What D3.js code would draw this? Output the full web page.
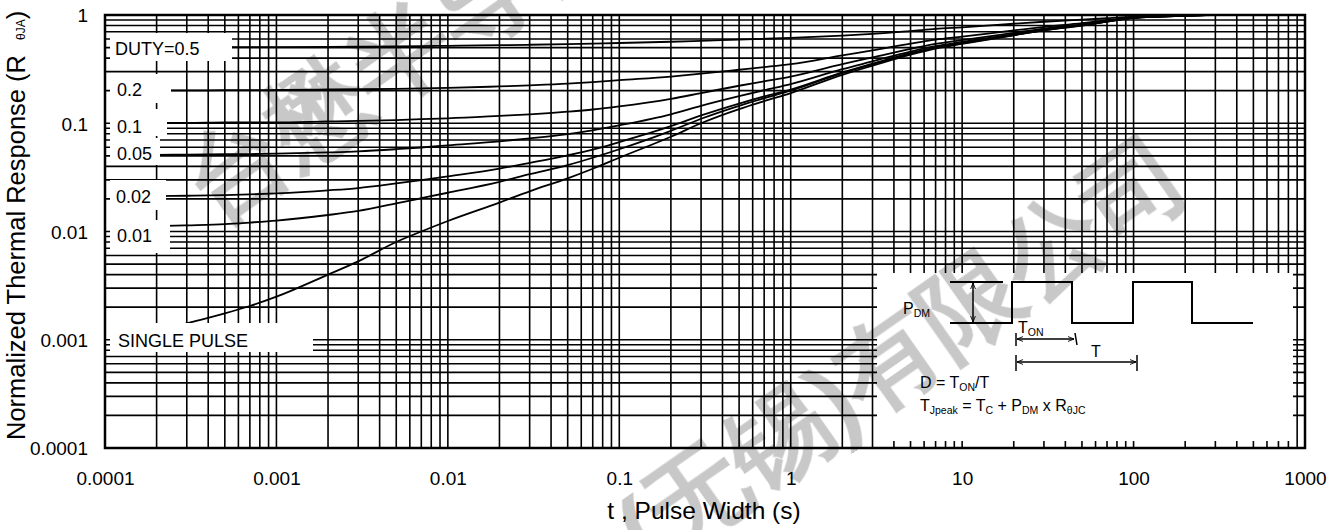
<!DOCTYPE html>
<html>
<head>
<meta charset="utf-8">
<script src="https://cdn.jsdelivr.net/npm/d3@7"></script>
<style>
  body { margin: 0; background: #fff; }
  svg { display: block; }
  text { font-family: "Liberation Sans", Arial, Helvetica, sans-serif; fill: #000; }
</style>
</head>
<body>
<svg id="chart" width="1344" height="530"></svg>
<script>
// Pulse width (s) sampled along every curve
const pulseWidth = [0.0002, 0.0003, 0.0005, 0.0007, 0.001, 0.002, 0.003, 0.005, 0.007,
  0.01, 0.02, 0.03, 0.05, 0.07, 0.1, 0.2, 0.3, 0.5, 0.7, 1, 2, 3, 5, 7,
  10, 20, 30, 50, 70, 100, 200, 300];

// Normalized thermal response for each duty cycle
const duty50 = [0.502, 0.503, 0.504, 0.505, 0.506, 0.508, 0.510, 0.513, 0.516,
  0.519, 0.526, 0.531, 0.538, 0.544, 0.551, 0.566, 0.577, 0.593, 0.603, 0.614, 0.645, 0.670, 0.710, 0.745,
  0.770, 0.830, 0.866, 0.905, 0.935, 0.965, 0.990, 1.0];
const duty20 = [0.201, 0.201, 0.202, 0.202, 0.203, 0.205, 0.206, 0.208, 0.210,
  0.212, 0.219, 0.224, 0.232, 0.240, 0.250, 0.270, 0.287, 0.312, 0.330, 0.352, 0.424, 0.472, 0.544, 0.592,
  0.632, 0.720, 0.776, 0.840, 0.896, 0.952, 0.988, 1.0];
const duty10 = [0.101, 0.101, 0.102, 0.102, 0.102, 0.104, 0.105, 0.107, 0.109,
  0.111, 0.117, 0.121, 0.128, 0.134, 0.143, 0.168, 0.190, 0.222, 0.244, 0.270, 0.352, 0.406, 0.487, 0.540,
  0.585, 0.685, 0.750, 0.820, 0.883, 0.946, 0.987, 1.0];
const duty05 = [0.0511, 0.0513, 0.0517, 0.0519, 0.0524, 0.0538, 0.0550, 0.0576, 0.0597,
  0.0625, 0.0680, 0.0725, 0.0795, 0.0860, 0.0956, 0.121, 0.145, 0.178, 0.202, 0.230, 0.316, 0.373, 0.460, 0.515,
  0.563, 0.667, 0.735, 0.810, 0.875, 0.943, 0.986, 1.0];
const duty02 = [0.0212, 0.0214, 0.0217, 0.0220, 0.0225, 0.0240, 0.0252, 0.0278, 0.0298,
  0.0323, 0.0381, 0.0430, 0.0505, 0.0570, 0.0670, 0.0940, 0.118, 0.152, 0.177, 0.205, 0.295, 0.355, 0.445, 0.500,
  0.552, 0.655, 0.725, 0.805, 0.870, 0.940, 0.985, 1.0];
const duty01 = [0.0112, 0.0114, 0.0117, 0.0121, 0.0126, 0.0142, 0.0155, 0.0182, 0.0203,
  0.0228, 0.0288, 0.0338, 0.0410, 0.0480, 0.0575, 0.0850, 0.110, 0.145, 0.170, 0.200, 0.290, 0.350, 0.440, 0.500,
  0.548, 0.652, 0.723, 0.803, 0.870, 0.940, 0.985, 1.0];
const singlePulse = [0.0012, 0.00142, 0.00175, 0.00205, 0.0025, 0.0040, 0.0053, 0.0080, 0.0100,
  0.0125, 0.0185, 0.0235, 0.0310, 0.0380, 0.0480, 0.0750, 0.100, 0.135, 0.160, 0.190, 0.280, 0.340, 0.430, 0.490,
  0.540, 0.650, 0.720, 0.800, 0.870, 0.940, 0.985, 1.0];

const seriesNames = ["DUTY=0.5", "0.2", "0.1", "0.05", "0.02", "0.01", "SINGLE PULSE"];
const seriesValues = [duty50, duty20, duty10, duty05, duty02, duty01, singlePulse];

// Axis ticks
const xTicks = [0.0001, 0.001, 0.01, 0.1, 1, 10, 100, 1000];
const xTickLabels = ["0.0001", "0.001", "0.01", "0.1", "1", "10", "100", "1000"];
const yTicks = [0.0001, 0.001, 0.01, 0.1, 1];
const yTickLabels = ["0.0001", "0.001", "0.01", "0.1", "1"];

// ---------------------------------------------------------------
const svg = d3.select("#chart");
const plot = { left: 105, right: 1305, top: 15, bottom: 448 };

const x = d3.scaleLog().domain([1e-4, 1e3]).range([plot.left, plot.right]);
const y = d3.scaleLog().domain([1e-4, 1]).range([plot.bottom, plot.top]);

svg.append("rect").attr("width", 1344).attr("height", 530).attr("fill", "#fff");

// log grid: 1..9 in every decade
const gridX = [];
for (let e = -4; e <= 2; e++) for (let k = 1; k <= 9; k++) gridX.push(k * Math.pow(10, e));
gridX.push(1000);
const gridY = [];
for (let e = -4; e <= -1; e++) for (let k = 1; k <= 9; k++) gridY.push(k * Math.pow(10, e));
gridY.push(1);

const grid = svg.append("g").attr("stroke", "#000").attr("stroke-width", 1.6);
grid.selectAll("line.v").data(gridX).join("line").attr("class", "v")
  .attr("x1", d => x(d)).attr("x2", d => x(d))
  .attr("y1", plot.top).attr("y2", plot.bottom);
grid.selectAll("line.h").data(gridY).join("line").attr("class", "h")
  .attr("x1", plot.left).attr("x2", plot.right)
  .attr("y1", d => y(d)).attr("y2", d => y(d));

// response curves
const line = d3.line()
  .x(d => x(d[0]))
  .y(d => y(d[1]))
  .curve(d3.curveMonotoneX);
svg.append("g").selectAll("path").data(seriesValues).join("path")
  .attr("d", vals => line(pulseWidth.map((t, i) => [t, vals[i]])))
  .attr("fill", "none").attr("stroke", "#000").attr("stroke-width", 1.8);

// white backing boxes behind the curve labels
const labelBoxes = [
  { x0: 110, x1: 232, y0: 33, y1: 61, tx: 115, ty: 55 },
  { x0: 110, x1: 171, y0: 74, y1: 103, tx: 117, ty: 96 },
  { x0: 110, x1: 167, y0: 109, y1: 136, tx: 117, ty: 133 },
  { x0: 110, x1: 160, y0: 138, y1: 165, tx: 117, ty: 159.5 },
  { x0: 110, x1: 166, y0: 180, y1: 210, tx: 116, ty: 203 },
  { x0: 110, x1: 170, y0: 220, y1: 253, tx: 117, ty: 242 },
  { x0: 110, x1: 313, y0: 323, y1: 352, tx: 118, ty: 347 }
];
const lab = svg.append("g");
lab.selectAll("rect").data(labelBoxes).join("rect")
  .attr("x", d => d.x0).attr("y", d => d.y0)
  .attr("width", d => d.x1 - d.x0).attr("height", d => d.y1 - d.y0)
  .attr("fill", "#fff");
lab.selectAll("text").data(labelBoxes).join("text")
  .attr("x", d => d.tx).attr("y", d => d.ty)
  .style("font-size", "18px")
  .text((d, i) => seriesNames[i]);

// inset: pulse train diagram
const ins = svg.append("g");
ins.append("rect").attr("x", 877).attr("y", 273).attr("width", 416).attr("height", 168).attr("fill", "#fff");

const defs = svg.append("defs");
defs.append("marker").attr("id", "arr").attr("viewBox", "0 0 10 10")
  .attr("refX", 10).attr("refY", 5).attr("markerWidth", 6).attr("markerHeight", 6)
  .attr("markerUnits", "userSpaceOnUse")
  .attr("orient", "auto-start-reverse")
  .append("path").attr("d", "M0,1 L10,5 L0,9").attr("fill", "none").attr("stroke", "#000").attr("stroke-width", 1.5);

const stroke = g => g.attr("stroke", "#000").attr("fill", "none");
stroke(ins.append("path")).attr("stroke-width", 2)
  .attr("d", "M950,323 H1012 V282 H1072 V323 H1133 V282 H1192 V323 H1253");
stroke(ins.append("line")).attr("stroke-width", 2).attr("x1", 950).attr("x2", 1003).attr("y1", 282).attr("y2", 282);
stroke(ins.append("line")).attr("stroke-width", 1.5).attr("x1", 973).attr("x2", 973).attr("y1", 283).attr("y2", 322)
  .attr("marker-start", "url(#arr)").attr("marker-end", "url(#arr)");
// T_ON span
stroke(ins.append("line")).attr("stroke-width", 1.5).attr("x1", 1017).attr("x2", 1074).attr("y1", 339).attr("y2", 339)
  .attr("marker-start", "url(#arr)").attr("marker-end", "url(#arr)");
stroke(ins.append("line")).attr("stroke-width", 1.5).attr("x1", 1016).attr("x2", 1016).attr("y1", 333).attr("y2", 346);
stroke(ins.append("line")).attr("stroke-width", 1.5).attr("x1", 1075).attr("x2", 1077).attr("y1", 333).attr("y2", 345);
// T span
stroke(ins.append("line")).attr("stroke-width", 1.5).attr("x1", 1017).attr("x2", 1136).attr("y1", 362).attr("y2", 362)
  .attr("marker-start", "url(#arr)").attr("marker-end", "url(#arr)");
stroke(ins.append("line")).attr("stroke-width", 1.5).attr("x1", 1016).attr("x2", 1016).attr("y1", 355).attr("y2", 371);
stroke(ins.append("line")).attr("stroke-width", 1.5).attr("x1", 1137).attr("x2", 1137).attr("y1", 355).attr("y2", 371);

function richText(g, xPos, yPos, parts) {
  const t = g.append("text").attr("x", xPos).attr("y", yPos).style("font-size", "16px");
  parts.forEach(p => {
    const s = t.append("tspan").text(p.s);
    if (p.sub) s.style("font-size", "10.5px").attr("dy", 3);
    else if (p.back) s.attr("dy", -3);
  });
  return t;
}
richText(ins, 903, 314, [{ s: "P" }, { s: "DM", sub: true }]);
richText(ins, 1018, 333, [{ s: "T" }, { s: "ON", sub: true }]);
ins.append("text").attr("x", 1096).attr("y", 357).attr("text-anchor", "middle").style("font-size", "16px").text("T");
richText(ins, 920, 388, [{ s: "D = T" }, { s: "ON", sub: true }, { s: "/T", back: true }]);
richText(ins, 920, 411, [
  { s: "T" }, { s: "Jpeak", sub: true }, { s: " = T", back: true }, { s: "C", sub: true },
  { s: " + P", back: true }, { s: "DM", sub: true }, { s: " x R", back: true }, { s: "θJC", sub: true }
]);

// plot frame
svg.append("rect")
  .attr("x", plot.left).attr("y", plot.top)
  .attr("width", plot.right - plot.left).attr("height", plot.bottom - plot.top)
  .attr("fill", "none").attr("stroke", "#000").attr("stroke-width", 2.5);

// axes (labels only)
const xAxis = d3.axisBottom(x).tickValues(xTicks).tickFormat((d, i) => xTickLabels[i]).tickSize(0).tickPadding(24);
const gx = svg.append("g").attr("transform", `translate(0,${plot.bottom})`).call(xAxis);
gx.select(".domain").remove();
gx.selectAll("text").style("font-size", "19px").style("font-family", "'Liberation Sans', Arial, sans-serif").attr("fill", "#000");

const yAxis = d3.axisLeft(y).tickValues(yTicks).tickFormat((d, i) => yTickLabels[i]).tickSize(0).tickPadding(17);
const gy = svg.append("g").attr("transform", `translate(${plot.left},0)`).call(yAxis);
gy.select(".domain").remove();
gy.selectAll("text").style("font-size", "19px").style("font-family", "'Liberation Sans', Arial, sans-serif").attr("fill", "#000").attr("dy", "0.36em");

// axis titles
svg.append("text")
  .attr("x", 704).attr("y", 519).attr("text-anchor", "middle")
  .style("font-size", "24.5px")
  .text("t , Pulse Width (s)");

const yt = svg.append("text")
  .attr("transform", "translate(25,440) rotate(-90)")
  .style("font-size", "25.5px");
yt.append("tspan").text("Normalized Thermal Response (R");
yt.append("tspan").attr("dx", 15).style("font-size", "12px").text("θJA");
yt.append("tspan").text(")");

// company watermark, blended over the drawing
const wm = svg.append("g")
  .style("mix-blend-mode", "multiply")
  .style("font-family", "'Noto Sans CJK SC', sans-serif")
  .style("font-weight", "bold")
  .style("font-size", "100px");
wm.append("text").attr("transform", "translate(215,226) rotate(-35)").style("fill", "#c8c8c8").text("台懋半导体");
wm.append("text").attr("transform", "translate(648,571) rotate(-35)").style("fill", "#c8c8c8").text("(无锡)有限公司");
</script>
</body>
</html>
